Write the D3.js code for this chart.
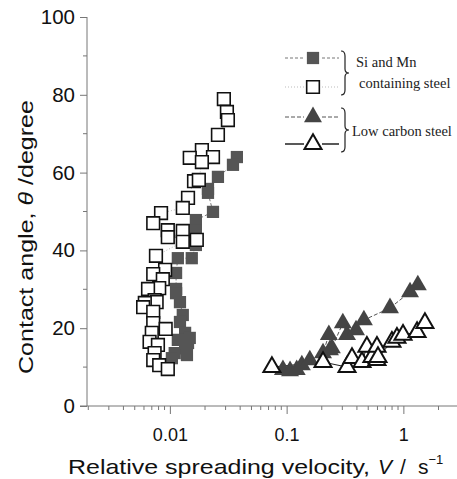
<!DOCTYPE html>
<html>
<head>
<meta charset="utf-8">
<script src="https://cdn.jsdelivr.net/npm/d3@7"></script>
<style>
  body { margin: 0; background: #fff; }
  svg { display: block; }
</style>
</head>
<body>
<script>
// Si and Mn containing steel, filled squares [V, theta]
const siMnFilled = [
  [0.0375, 64.0], [0.0347, 62.0], [0.0258, 58.9], [0.0212, 55.8], [0.0212, 54.8],
  [0.0234, 49.9], [0.0167, 47.8], [0.0167, 45.2], [0.0167, 41.4], [0.0117, 38.0],
  [0.0154, 38.0], [0.0113, 34.2], [0.0113, 30.1], [0.0113, 29.0], [0.0122, 26.7],
  [0.0129, 23.4], [0.0122, 21.6], [0.0135, 18.8], [0.0148, 17.5], [0.0117, 17.0],
  [0.0143, 16.2], [0.0135, 14.9], [0.0110, 13.6], [0.0140, 13.1], [0.0104, 12.3]
];
// Si and Mn containing steel, open squares
const siMnOpen = [
  [0.0290, 78.9], [0.0308, 75.6], [0.0314, 73.5], [0.0258, 69.7], [0.0188, 65.8],
  [0.0148, 63.8], [0.0234, 64.0], [0.0188, 62.7], [0.0161, 57.8], [0.0177, 58.1],
  [0.0143, 53.5], [0.0129, 50.9], [0.0084, 49.6], [0.0072, 47.0], [0.0096, 45.2],
  [0.0096, 43.4], [0.0129, 45.0], [0.0129, 42.2], [0.0170, 42.7], [0.0076, 38.6],
  [0.0091, 35.0], [0.0072, 33.9], [0.0087, 32.6], [0.0081, 30.3], [0.0065, 30.1],
  [0.0074, 27.2], [0.0077, 26.7], [0.0061, 26.5], [0.0059, 25.4], [0.0072, 24.2],
  [0.0072, 21.3], [0.0092, 19.8], [0.0070, 18.8], [0.0067, 16.5], [0.0079, 15.7],
  [0.0074, 13.6], [0.0072, 11.8], [0.0081, 10.5], [0.0096, 9.5]
];
// Low carbon steel, filled triangles
const lowCFilled = [
  [0.093, 9.3], [0.107, 9.0], [0.122, 9.3], [0.135, 10.5], [0.158, 11.8],
  [0.205, 13.6], [0.230, 18.3], [0.235, 14.4], [0.244, 14.9], [0.303, 21.3],
  [0.329, 18.3], [0.393, 19.5], [0.459, 22.1], [0.768, 25.2], [1.14, 29.3], [1.33, 31.1]
];
// Low carbon steel, open triangles
const lowCOpen = [
  [0.0748, 10.0], [0.205, 11.3], [0.329, 10.0], [0.363, 12.3], [0.442, 11.3],
  [0.487, 15.2], [0.538, 12.6], [0.594, 11.8], [0.594, 15.2], [0.606, 12.6],
  [0.798, 16.5], [0.881, 17.5], [0.993, 18.3], [1.31, 19.0], [1.53, 21.3]
];
const yTickValues = [0, 20, 40, 60, 80, 100];
const xTickLabels = ["0.01", "0.1", "1"];

const width = 457, height = 479;
const svg = d3.select("body").append("svg")
  .attr("width", width).attr("height", height);

const x = d3.scaleLog().domain([0.00195, 2.88]).range([87, 457]);
const y = d3.scaleLinear().domain([0, 100]).range([406, 17]);
const axisColor = "#777";
const sans = "Liberation Sans, Arial, sans-serif";

// y axis
const yMinor = d3.range(0, 101, 10).filter(v => v % 20 !== 0);
const yAxis = svg.append("g").attr("transform", "translate(87,0)")
  .call(d3.axisLeft(y).tickValues(yTickValues).tickSize(7).tickPadding(5).tickFormat(d3.format("d")));
yAxis.selectAll(".tick text").attr("font-family", sans)
  .attr("font-size", 20.5).attr("fill", "#111");
yAxis.append("g").selectAll("line").data(yMinor).join("line")
  .attr("x1", -4).attr("x2", 0).attr("y1", d => y(d)).attr("y2", d => y(d));
yAxis.selectAll("line").attr("stroke", axisColor);
yAxis.select(".domain").attr("stroke", axisColor).attr("d", "M0,17V406");

// x axis
const xMajor = [0.01, 0.1, 1];
const xMinor = [];
[0.001, 0.01, 0.1, 1].forEach(dec => {
  for (let k = 2; k <= 9; k++) {
    const v = dec * k;
    if (v >= 0.002 && v <= 2.8) xMinor.push(v);
  }
});
const xAxis = svg.append("g").attr("transform", "translate(0,406)")
  .call(d3.axisBottom(x).tickValues(xMajor).tickSize(8).tickPadding(14)
    .tickFormat((d, i) => xTickLabels[i]));
xAxis.selectAll(".tick text").attr("font-family", sans)
  .attr("font-size", 18).attr("fill", "#111");
xAxis.append("g").selectAll("line").data(xMinor).join("line")
  .attr("x1", d => x(d)).attr("x2", d => x(d)).attr("y1", 0).attr("y2", 4);
xAxis.selectAll("line").attr("stroke", axisColor);
xAxis.select(".domain").attr("stroke", axisColor).attr("d", "M80,0H457");

// axis titles
svg.append("text")
  .attr("transform", "translate(33,237) rotate(-90)")
  .attr("text-anchor", "middle")
  .attr("font-family", sans)
  .attr("font-size", 21).attr("fill", "#111")
  .attr("textLength", 274).attr("lengthAdjust", "spacingAndGlyphs")
  .call(t => {
    t.append("tspan").text("Contact angle, ");
    t.append("tspan").attr("font-style", "italic").text("θ");
    t.append("tspan").text(" /degree");
  });
svg.append("text")
  .attr("x", 68).attr("y", 474)
  .attr("font-family", sans)
  .attr("font-size", 21).attr("fill", "#111")
  .call(t => {
    t.append("tspan").attr("textLength", 302).attr("lengthAdjust", "spacingAndGlyphs")
      .text("Relative spreading velocity,");
    t.append("tspan").attr("x", 378).attr("font-style", "italic").text("V");
    t.append("tspan").attr("x", 400).text("/");
    t.append("tspan").attr("x", 418).text("s");
    t.append("tspan").attr("font-size", 13).attr("dy", -10).text("−1");
  });

// series
const square = d3.symbol().type(d3.symbolSquare);
const triangle = d3.symbol().type(d3.symbolTriangle);
const line = d3.line().x(d => x(d[0])).y(d => y(d[1]));

const series = [
  {data: siMnFilled, sym: square, size: 150, fill: "#555", stroke: "none", sw: 0,
   lc: "#777", dash: "3,2", sort: (a, b) => a[1] - b[1]},
  {data: siMnOpen, sym: square, size: 160, fill: "#fff", stroke: "#111", sw: 1.6,
   lc: "#bbb", dash: "1,2", sort: (a, b) => a[1] - b[1]},
  {data: lowCFilled, sym: triangle, size: 140, fill: "#444", stroke: "none", sw: 0,
   lc: "#555", dash: "4,2", sort: (a, b) => a[0] - b[0]},
  {data: lowCOpen, sym: triangle, size: 125, fill: "#fff", stroke: "#111", sw: 2,
   lc: "#222", dash: null, sort: (a, b) => a[0] - b[0]}
];

series.forEach(s => {
  svg.append("path")
    .attr("d", line(s.data.slice().sort(s.sort)))
    .attr("fill", "none").attr("stroke", s.lc).attr("stroke-width", 1)
    .attr("stroke-dasharray", s.dash);
});
series.forEach(s => {
  svg.append("g").selectAll("path").data(s.data).join("path")
    .attr("transform", d => `translate(${x(d[0])},${y(d[1])})`)
    .attr("d", s.sym.size(s.size))
    .attr("fill", s.fill).attr("stroke", s.stroke).attr("stroke-width", s.sw);
});

// legend
const legend = svg.append("g");
const legRows = [
  {yy: 58, s: series[0]}, {yy: 87, s: series[1]},
  {yy: 117, s: series[2]}, {yy: 144, s: series[3]}
];
legRows.forEach(r => {
  [[285, 304], [322, 339]].forEach(seg => {
    legend.append("line").attr("x1", seg[0]).attr("x2", seg[1])
      .attr("y1", r.yy).attr("y2", r.yy)
      .attr("stroke", r.s.lc).attr("stroke-width", r.s.dash ? 1 : 1.5)
      .attr("stroke-dasharray", r.s.dash);
  });
  legend.append("path")
    .attr("transform", `translate(313,${r.yy})`)
    .attr("d", r.s.sym.size(r.s.size))
    .attr("fill", r.s.fill).attr("stroke", r.s.stroke).attr("stroke-width", r.s.sw);
});
const brace = (x0, y0, y1) => {
  const m = (y0 + y1) / 2;
  return `M${x0},${y0} Q${x0 + 4},${y0} ${x0 + 4},${y0 + 5} L${x0 + 4},${m - 4} Q${x0 + 4},${m} ${x0 + 8},${m}` +
         ` Q${x0 + 4},${m} ${x0 + 4},${m + 4} L${x0 + 4},${y1 - 5} Q${x0 + 4},${y1} ${x0},${y1}`;
};
legend.append("path").attr("d", brace(341, 51, 95))
  .attr("fill", "none").attr("stroke", "#222").attr("stroke-width", 1.2);
legend.append("path").attr("d", brace(341, 108, 152))
  .attr("fill", "none").attr("stroke", "#222").attr("stroke-width", 1.2);
const legText = [["Si and Mn", 356, 67], ["containing steel", 359, 88], ["Low carbon steel", 352, 136]];
legend.selectAll("text").data(legText).join("text")
  .attr("x", d => d[1]).attr("y", d => d[2])
  .attr("font-family", "Liberation Serif, Times New Roman, serif")
  .attr("font-size", 14.5).attr("fill", "#222")
  .text(d => d[0]);
</script>
</body>
</html>
